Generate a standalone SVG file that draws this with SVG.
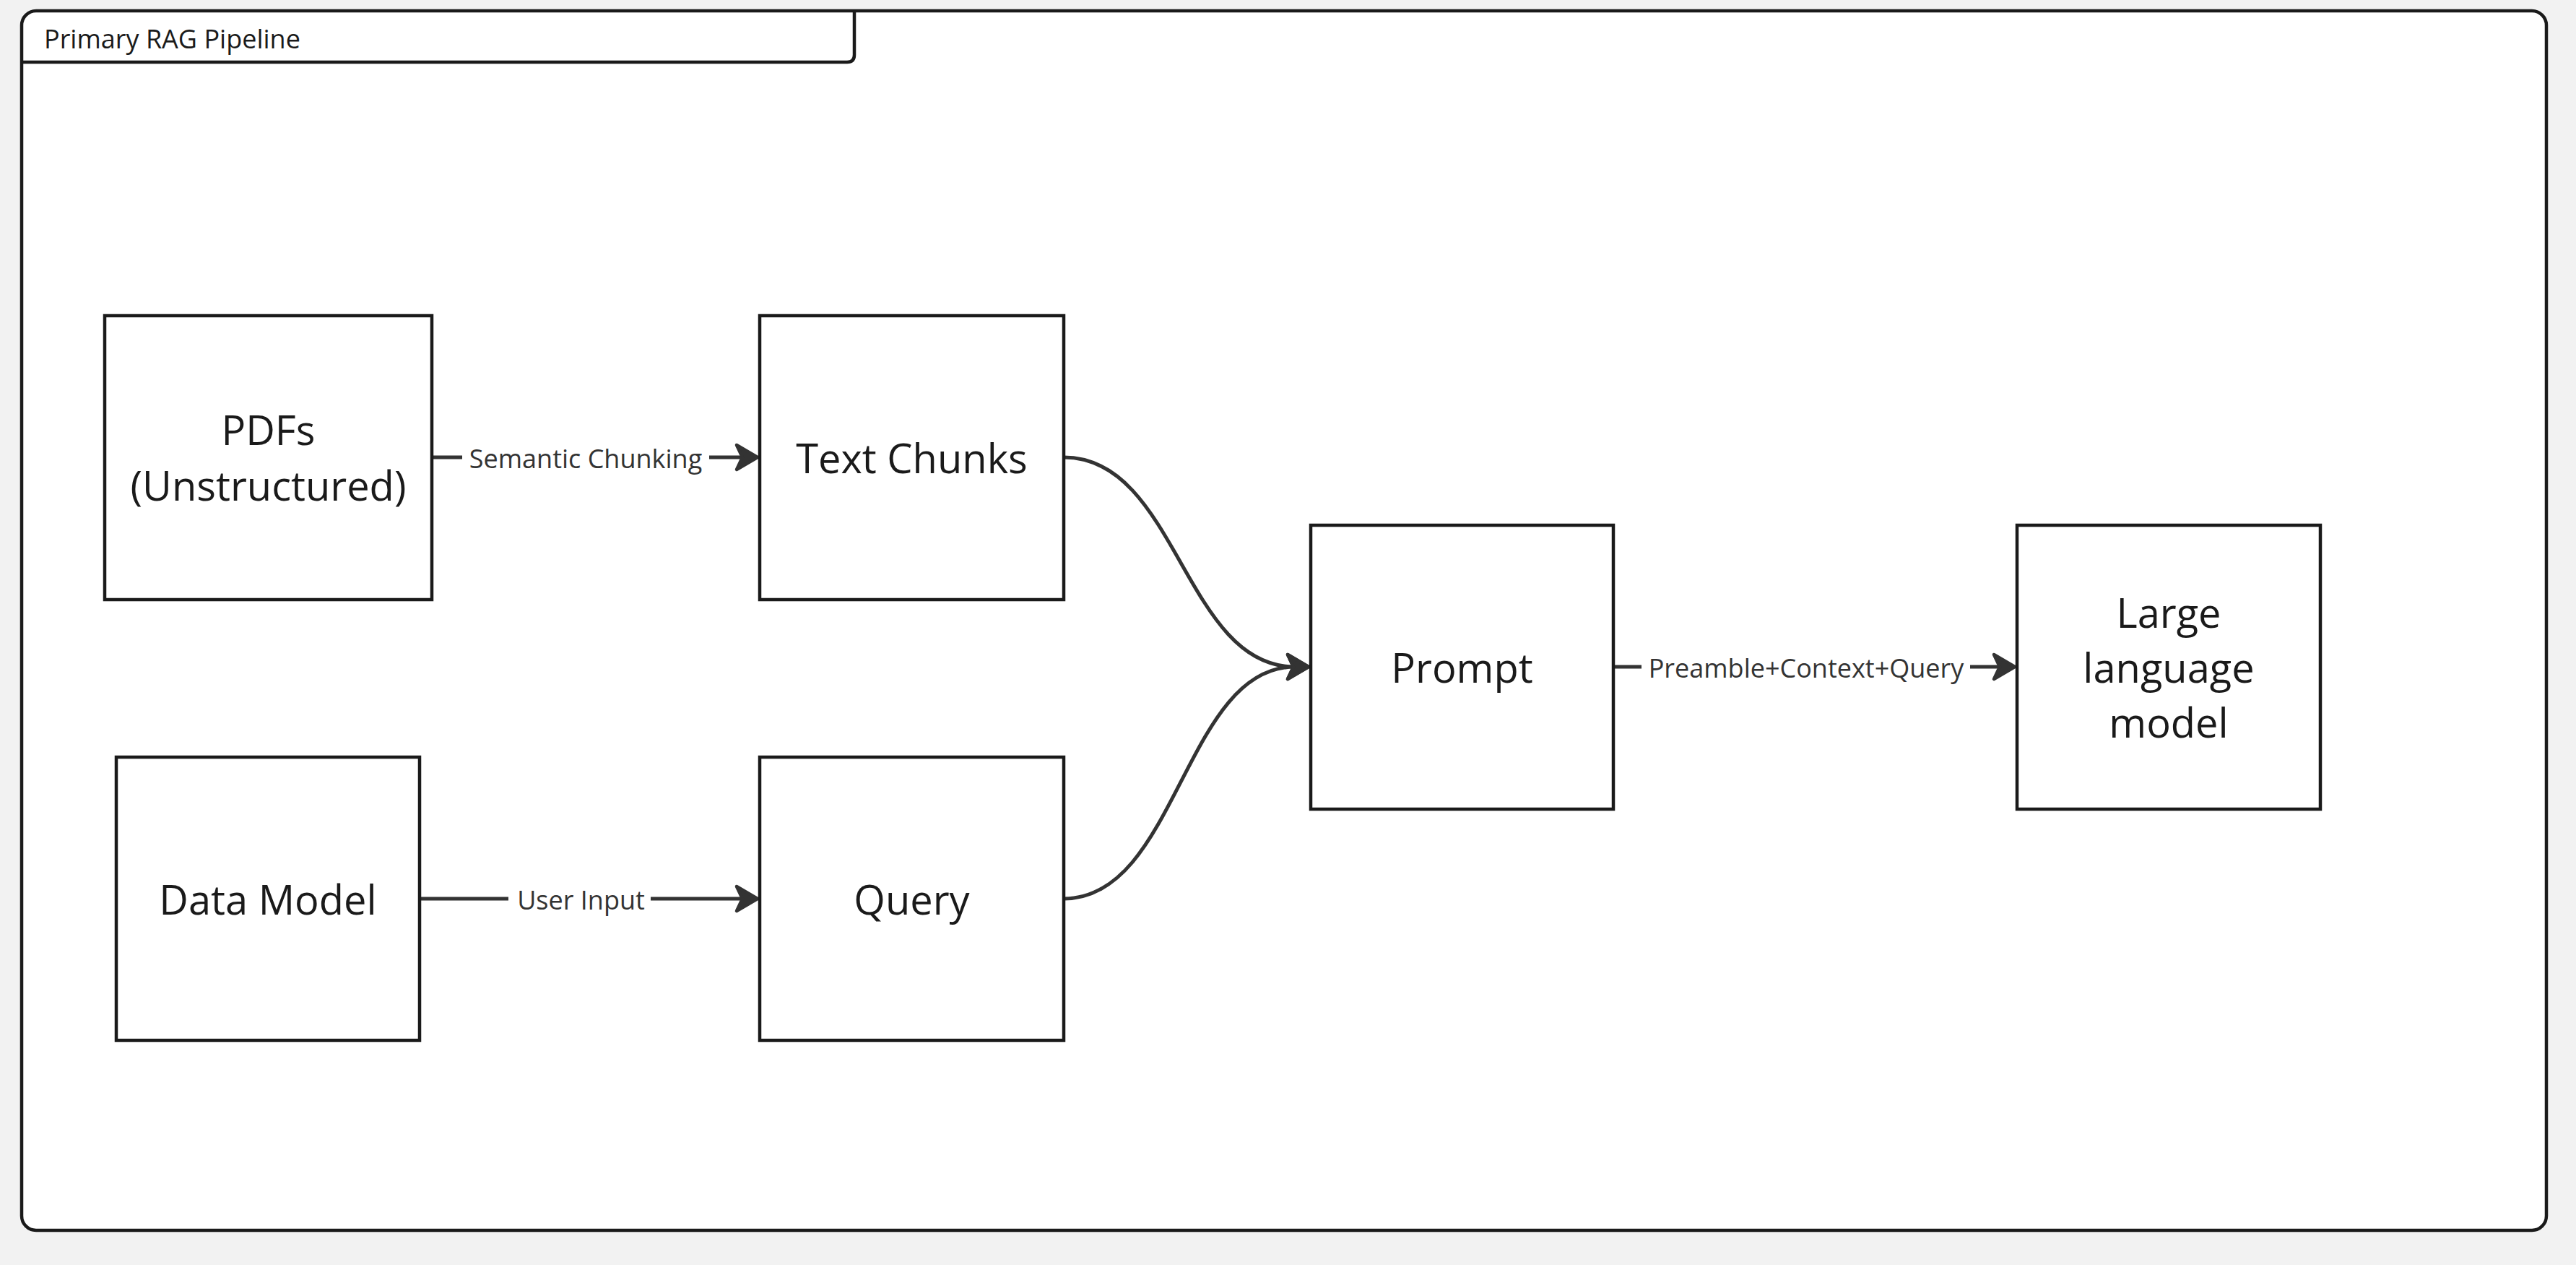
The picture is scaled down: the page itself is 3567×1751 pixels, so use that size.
<svg xmlns="http://www.w3.org/2000/svg" width="3567" height="1751" viewBox="0 0 3567 1751">
<style>
.node rect{fill:#ffffff;stroke:#1a1a1a;stroke-width:4.5}
.nlabel{font-family:"Open Sans","Noto Sans",sans-serif;font-size:56px;fill:#1a1a1a;text-anchor:middle}
.elabel{font-family:"Open Sans","Noto Sans",sans-serif;font-size:36px;fill:#333333;text-anchor:middle}
.conn{fill:none;stroke:#333333;stroke-width:5}
.frame{fill:#ffffff;stroke:#1a1a1a;stroke-width:4.5}
</style>
<defs>
<marker id="arrow" markerUnits="userSpaceOnUse" viewBox="-14 -22 38 44" refX="0" refY="0" markerWidth="38" markerHeight="44" orient="auto" overflow="visible">
<path d="M19,0 L-10,-17 L-2,0 L-10,17 Z" fill="#333333" stroke="#333333" stroke-width="4.5" stroke-linejoin="round"/>
</marker>
</defs>
<rect x="0" y="0" width="3567" height="1751" fill="#f2f2f2"/>
<g id="frame">
<rect class="frame" x="30" y="15" width="3496" height="1688" rx="20" ry="20"/>
<path d="M30,86 L1173,86 Q1183,86 1183,76 L1183,15" fill="none" stroke="#1a1a1a" stroke-width="4.5"/>
<text x="61" y="67" font-family="'Open Sans','Noto Sans',sans-serif" font-size="36" fill="#1a1a1a">Primary RAG Pipeline</text>
</g>
<g id="connectors">
<path class="conn" d="M598,633 L640,633"/>
<path class="conn" d="M982,633 L1030,633" marker-end="url(#arrow)"/>
<text class="elabel" x="811" y="648">Semantic Chunking</text>
<path class="conn" d="M581,1244 L704,1244"/>
<path class="conn" d="M901,1244 L1030,1244" marker-end="url(#arrow)"/>
<text class="elabel" x="804.5" y="1259">User Input</text>
<path class="conn" d="M2234,923 L2273,923"/>
<path class="conn" d="M2728,923 L2771,923" marker-end="url(#arrow)"/>
<text class="elabel" x="2501" y="938">Preamble+Context+Query</text>
<path class="conn" d="M1473,633 C1630,633 1640,923 1793,923" marker-end="url(#arrow)"/>
<path class="conn" d="M1473,1244 C1630,1244 1640,923 1793,923" marker-end="url(#arrow)"/>
</g>
<g id="node-pdfs" class="node">
<rect x="145" y="437" width="453" height="393"/>
<text class="nlabel" x="371.5" y="616">PDFs</text>
<text class="nlabel" x="371.5" y="693">(Unstructured)</text>
</g>
<g id="node-textchunks" class="node">
<rect x="1052" y="437" width="421" height="393"/>
<text class="nlabel" x="1262.5" y="655">Text Chunks</text>
</g>
<g id="node-datamodel" class="node">
<rect x="161" y="1048" width="420" height="392"/>
<text class="nlabel" x="371" y="1266">Data Model</text>
</g>
<g id="node-query" class="node">
<rect x="1052" y="1048" width="421" height="392"/>
<text class="nlabel" x="1262.5" y="1266">Query</text>
</g>
<g id="node-prompt" class="node">
<rect x="1815" y="727" width="419" height="393"/>
<text class="nlabel" x="2024.5" y="945">Prompt</text>
</g>
<g id="node-llm" class="node">
<rect x="2793" y="727" width="420" height="393"/>
<text class="nlabel" x="3003" y="869">Large</text>
<text class="nlabel" x="3003" y="945">language</text>
<text class="nlabel" x="3003" y="1021">model</text>
</g>
</svg>
